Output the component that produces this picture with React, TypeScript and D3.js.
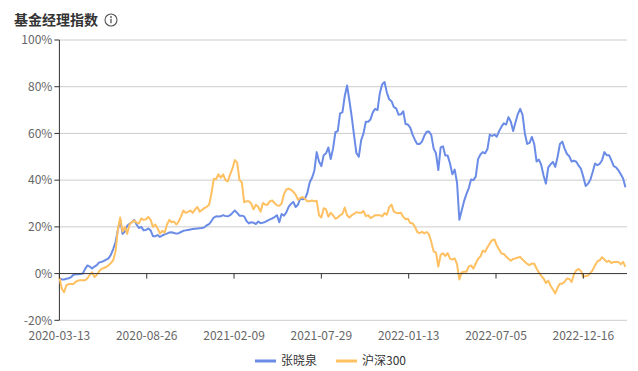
import * as d3 from 'd3'

// values in %, one sample every 3 trading days
const managerName = '张晓泉'
const indexName = '沪深300'
const sampleStep = 3
const lastIndex = 728

const managerValues = [
  -2, -2.5, -2.5, -2.2, -2, -1.5, -0.5, -0.3, -0.3, -0.2, 0, 2, 3.5, 3, 2.2, 3, 3.6, 4.8, 5, 5.4,
  6, 6.5, 8, 10.5, 13.5, 18.6, 23, 17, 18, 20.5, 21.3, 22, 23, 21, 19.5, 20, 18.5, 18.7, 19.3, 18.5,
  16, 16, 16.5, 15.7, 16.3, 16.8, 17.1, 17.6, 17.7, 17.4, 17.1, 17.3, 17.8, 18.3, 18.5, 18.7, 18.9, 19.1, 19.2, 19.3,
  19.4, 19.5, 19.8, 20.7, 21.2, 22.5, 24, 24.5, 24.4, 24.5, 25, 24.6, 24.5, 25, 26, 27, 26, 24.8, 24.8, 24.5,
  22.5, 21.5, 22, 21.8, 21.2, 22.3, 21.6, 21.8, 22.1, 22.7, 23.2, 23.6, 24.2, 25, 22, 25.5, 24.8, 26.2, 28.6, 29.8,
  30.7, 28.5, 29.5, 32.2, 31.8, 32.1, 34.5, 39, 41, 44, 52, 48, 46, 50.7, 51.5, 54, 49, 53.6, 60.5, 61,
  68.6, 69, 76, 80.5, 74, 67, 59, 51.5, 50, 57, 60, 65, 65, 66, 69, 70.5, 70, 77.3, 81, 82,
  77.5, 74.6, 73.8, 71.3, 70.7, 68, 68.2, 69.5, 64, 63.8, 62.5, 59.5, 57.2, 55.5, 55.5, 56.5, 59, 60.7, 60.8, 59.3,
  53.5, 51.5, 44.3, 54, 54.5, 50.5, 50.5, 47.1, 42.5, 44.5, 39, 23, 27, 31, 34, 36.5, 40.3, 40, 41.5, 49,
  51, 52, 51.5, 53.3, 59.5, 58.9, 59.5, 58.6, 61, 62.9, 64.3, 63.8, 67, 65, 61, 64.8, 68.3, 70.5, 68, 60,
  55.5, 56, 58.5, 55.5, 48, 48.8, 46.5, 42, 38.5, 45.5, 46.8, 47.8, 45.7, 50, 55.5, 56.5, 53.5, 51.2, 50.2, 48,
  48.3, 47.9, 46.2, 44.8, 41.4, 37.5, 38.5, 40.2, 43.5, 47.1, 46.4, 47, 48.5, 52, 50.7, 50.7, 48.5, 46, 45.5, 44.2,
  42.5, 40.7, 37,
]

const indexValues = [
  -1.5, -6.4, -8, -5, -4.5, -4.5, -4.5, -3.5, -3, -2.9, -2.9, -2.9, -2, -0.5, 0.5, -1.5, -0.5, 1, 2, 2.4,
  2.8, 3.5, 4.5, 5.7, 9.5, 19, 24, 18, 20, 17, 21, 22.1, 22.7, 21.8, 21.5, 23.6, 23, 23.2, 24.3, 23,
  20, 21, 19.3, 17.1, 18.3, 17.5, 21, 23, 22, 22.3, 21, 22.3, 24.5, 27, 26, 26.4, 27, 26, 27.5, 28.5,
  26.5, 27.3, 28, 28.6, 29.5, 34.3, 40.5, 40.5, 42.5, 41, 42.5, 40, 39.5, 42.5, 45, 48.6, 47.5, 40, 39, 30.5,
  31, 31, 30, 27.5, 29.5, 28.6, 26.5, 30.2, 29.5, 29.5, 31, 31.3, 30.2, 29.2, 29, 30, 34, 36, 36.3, 35.9,
  35, 33.8, 31.6, 32.3, 32.8, 32, 31, 31, 31.3, 30.9, 31.2, 25, 24, 28, 27.5, 24.3, 26, 25, 23.5, 24,
  25, 25.5, 28.3, 25, 24, 25, 25.6, 26.3, 26, 26, 26.8, 24.6, 25, 23.8, 24.3, 25, 25, 25, 24.5, 25.9,
  25.2, 28.5, 29.5, 26.5, 26, 25.8, 26, 24.3, 23.3, 23.5, 21.6, 21.5, 20.1, 17.8, 17.3, 17.9, 17.2, 17.8, 16.8, 13.5,
  9.5, 9, 3, 8, 8.7, 7.5, 8.8, 6.4, 6, 6.5, 4, -2.5, 0.5, 0.8, 0.8, 3, 3.5, 2.1, 4.3, 6.4,
  7.3, 9.8, 9.3, 11.3, 12.9, 14.3, 14.6, 12, 10.3, 8.6, 8.4, 7.3, 6.4, 5.5, 6.3, 6.5, 6.9, 7.1, 6, 5,
  4.2, 3.6, 4.3, 4.2, 2.2, 0.5, -1, -2.1, -4, -3, -5.2, -6.8, -8.5, -6, -4.3, -4.3, -3.5, -2.1, -2.3, -3.6,
  -0.3, 1.4, 2, 1, -1.4, -1, -0.8, 0.2, 1.5, 3.6, 5.2, 5.7, 7, 6, 5, 5.5, 4.5, 5, 5, 5,
  4, 5, 2.9,
]

const dateLabels = ['2020-03-13', '2020-08-26', '2021-02-09', '2021-07-29', '2022-01-13', '2022-07-05', '2022-12-16']
const labelStep = 112
const yTicks = [-20, 0, 20, 40, 60, 80, 100]

const W = 638
const H = 371
const left = 59.4
const right = 627
const top = 40
const bottom = 320.3
const font = "'Noto Sans CJK SC', 'Noto Sans', sans-serif"

export default function App() {
  const x = d3.scaleLinear().domain([0, lastIndex]).range([left, right])
  const y = d3.scaleLinear().domain([-20, 100]).range([bottom, top])

  const line = d3.line<number>()
    .x((_, i) => x(i * sampleStep))
    .y(d => y(d))

  const y0 = y(0)

  return (
    <svg width={W} height={H} style={{ position: 'absolute', left: 0, top: 0, fontFamily: font }}>
      <rect width={W} height={H} fill="#fff" />
      <text x={14} y={25} fontSize={14} fontWeight="bold" fill="#333">基金经理指数</text>
      <g transform="translate(111,20)">
        <circle r={6} fill="none" stroke="#555" strokeWidth={1.1} />
        <circle cx={0} cy={-3} r={0.9} fill="#555" />
        <line x1={0} x2={0} y1={-1.2} y2={3.3} stroke="#555" strokeWidth={1.3} />
      </g>

      {yTicks.filter(t => t !== 0).map(t => (
        <line key={'g' + t} x1={left} x2={right} y1={y(t)} y2={y(t)} stroke="#cccccc" strokeWidth={1} />
      ))}

      {yTicks.map(t => (
        <g key={'y' + t}>
          <line x1={left - 5} x2={left} y1={y(t)} y2={y(t)} stroke="#333" />
          <text x={left - 7} y={y(t)} dy="0.35em" textAnchor="end" fontSize={12} fill="#666">{t}%</text>
        </g>
      ))}
      <line x1={left} x2={left} y1={top} y2={bottom} stroke="#333" />

      <path d={line(managerValues) ?? ''} fill="none" stroke="#6b8ce6" strokeWidth={2} strokeLinejoin="round" />
      <path d={line(indexValues) ?? ''} fill="none" stroke="#ffc062" strokeWidth={2} strokeLinejoin="round" />

      <line x1={left} x2={right} y1={y0} y2={y0} stroke="#333" />
      {dateLabels.map((d, i) => (
        <g key={d}>
          <line x1={x(i * labelStep)} x2={x(i * labelStep)} y1={y0} y2={y0 + 5} stroke="#333" />
          <text x={x(i * labelStep)} y={bottom + 15} dy="0.35em" textAnchor="middle" fontSize={12} fill="#666">{d}</text>
        </g>
      ))}

      <g transform="translate(255,361)">
        <line x1={0} x2={21} y1={0} y2={0} stroke="#6b8ce6" strokeWidth={3} />
        <text x={26} y={0} dy="0.35em" fontSize={12} fill="#333">{managerName}</text>
        <line x1={81} x2={102} y1={0} y2={0} stroke="#ffc062" strokeWidth={3} />
        <text x={107} y={0} dy="0.35em" fontSize={12} fill="#333">{indexName}</text>
      </g>
    </svg>
  )
}
